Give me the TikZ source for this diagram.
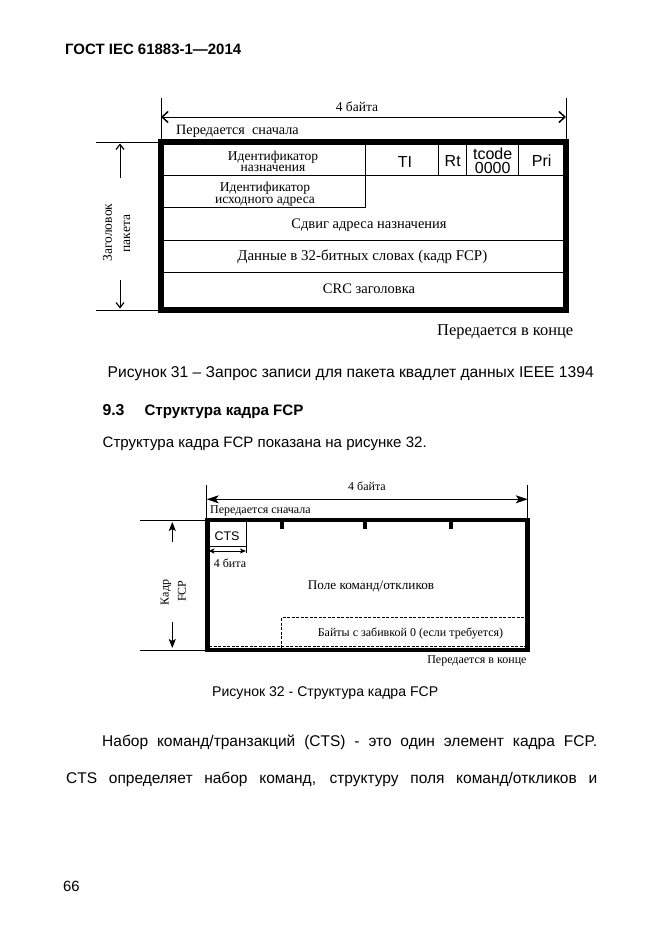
\documentclass[tikz,border=0pt]{standalone}
\usepackage{fontspec}
\usepackage{graphicx}
\setmainfont{Liberation Sans}
\newfontfamily\tnr{Liberation Serif}
\usetikzlibrary{arrows.meta}
\begin{document}
\begin{tikzpicture}[x=1pt,y=-1pt,
  body/.style={anchor=base west,inner sep=0pt,font=\fontsize{15.5}{18}\selectfont},
  lblA/.style={anchor=base,inner sep=0pt,font=\tnr\fontsize{13.5}{14}\selectfont},
  lblB/.style={anchor=base,inner sep=0pt,font=\tnr\fontsize{12}{13}\selectfont},
  sansA/.style={anchor=base,inner sep=0pt,font=\fontsize{16}{16}\selectfont},
  thinline/.style={line width=0.9pt},
  frameA/.style={line width=5.5pt},
  frameB/.style={line width=4.5pt},
  dimA/.style={line width=0.9pt,{Straight Barb[length=6pt,width=11pt,line width=1.5pt]}-{Straight Barb[length=6pt,width=11pt,line width=1.5pt]}},
  vA/.style={line width=0.9pt,-{Straight Barb[length=5pt,width=8pt,line width=1.2pt]}},
  dimB/.style={line width=0.9pt,{Stealth[length=12pt,width=8pt,inset=3pt]}-{Stealth[length=12pt,width=8pt,inset=3pt]}},
  vB/.style={line width=0.9pt,-{Stealth[length=9pt,width=7pt,inset=2pt]}},
  dimC/.style={line width=0.9pt,{Stealth[length=6pt,width=5pt,inset=1.5pt]}-{Stealth[length=6pt,width=5pt,inset=1.5pt]}}
]
\useasboundingbox (0,0) rectangle (661,936);
\fill[white] (0,0) rectangle (661,936);

% ---------- page text ----------
\node[anchor=base west,inner sep=0pt,font=\bfseries\fontsize{14.5}{16}\selectfont] (hdr) at (65,55) {\resizebox{176pt}{!}{ГОСТ IEC 61883-1—2014}};

\node[body] (cap31) at (107.5,377.3) {\resizebox{486pt}{!}{Рисунок 31 – Запрос записи для пакета квадлет данных IEEE 1394}};
\node[body,font=\bfseries\fontsize{16}{18}\selectfont] (sec) at (102.3,415.5) {\resizebox{22pt}{!}{9.3}};
\node[body,font=\bfseries\fontsize{15.5}{18}\selectfont] (sectitle) at (144.3,415.5) {\resizebox{159pt}{!}{Структура кадра FCP}};
\node[body] (par1) at (102.5,447.5) {\resizebox{324pt}{!}{Структура кадра FCP показана на рисунке 32.}};
\node[body] (cap32) at (212,696) {\resizebox{226pt}{!}{Рисунок 32 - Структура кадра FCP}};
\node[body] (par2) at (102,746) {\makebox[495pt][s]{Набор команд/транзакций (CTS) - это один элемент кадра FCP.}};
\node[body] (par3) at (66,783) {\makebox[531pt][s]{CTS определяет набор команд, структуру поля команд/откликов и}};
\node[body] (pg) at (63,891.5) {\resizebox{16.5pt}{!}{66}};

% ---------- Figure 31 ----------
\coordinate (a1) at (161,98);
\coordinate (a2) at (566,98);
\coordinate (a1b) at (161,142);
\coordinate (a2b) at (566,142);
\draw[thinline] (a1) -- (a1b);
\draw[thinline] (a2) -- (a2b);
\coordinate (w1) at (161,117);
\coordinate (w2) at (566,117);
\draw[dimA] (w1) -- (w2);
\node[lblA] (bytesA) at (357,111.7) {4 байта};
\node[lblA,anchor=base west,font=\tnr\fontsize{14.2}{15}\selectfont] (firstA) at (176,135) {Передается\ \ сначала};

% left dimension
\coordinate (l1) at (96,142);
\coordinate (l2) at (96,310);
\coordinate (l2b) at (161,310);
\draw[thinline] (l1) -- (a1b);
\draw[thinline] (l2) -- (l2b);
\coordinate (va1) at (120,178);
\coordinate (va2) at (120,143.5);
\coordinate (vb1) at (120,280);
\coordinate (vb2) at (120,308.5);
\draw[vA] (va1) -- (va2);
\draw[vA] (vb1) -- (vb2);
\node[rotate=90,inner sep=0pt,font=\tnr\fontsize{13.5}{14}\selectfont] (zag1) at (107.5,232.5) {Заголовок};
\node[rotate=90,inner sep=0pt,font=\tnr\fontsize{13.5}{14}\selectfont] (zag2) at (127,233.5) {пакета};

% grid
\draw[thinline] (161,175.7) -- (566,175.7);
\draw[thinline] (161,207.3) -- (365.7,207.3);
\draw[thinline] (161,240) -- (566,240);
\draw[thinline] (161,272.7) -- (566,272.7);
\draw[thinline] (365.7,142) -- (365.7,207.3);
\draw[thinline] (438.7,142) -- (438.7,175.7);
\draw[thinline] (466.7,142) -- (466.7,175.7);
\draw[thinline] (518.3,142) -- (518.3,175.7);
\draw[frameA] (161,142) rectangle (566,310);

\node[inner sep=0pt,align=center,font=\tnr\fontsize{13.5}{11.7}\selectfont] (dst) at (273,161.3) {Идентификатор\\назначения};
\node[sansA] (ti) at (405,167.3) {TI};
\node[sansA] (rt) at (452.7,166.7) {Rt};
\node[inner sep=0pt,align=center,font=\fontsize{16}{14}\selectfont] (tc) at (492.7,160.5) {tcode\\0000};
\node[sansA] (pri) at (541.7,166.5) {Pri};
\node[inner sep=0pt,align=center,font=\tnr\fontsize{13.5}{11.3}\selectfont] (src) at (265,194.2) {Идентификатор\\исходного адреса};
\node[lblA,font=\tnr\fontsize{14.5}{15}\selectfont] (off) at (369,228) {Сдвиг адреса назначения};
\node[lblA,font=\tnr\fontsize{14.9}{15}\selectfont] (data) at (362.3,260) {Данные в 32-битных словах (кадр FCP)};
\node[lblA,font=\tnr\fontsize{14.5}{15}\selectfont] (crc) at (369,293) {CRC заголовка};
\node[lblA,anchor=base west,font=\tnr\fontsize{14.5}{15}\selectfont] (lastA) at (437,335) {\resizebox{136pt}{!}{Передается в конце}};

% ---------- Figure 32 ----------
\coordinate (b1) at (206.7,485);
\coordinate (b2) at (527.7,485);
\coordinate (b1b) at (206.7,520);
\coordinate (b2b) at (527.7,520);
\draw[thinline] (b1) -- (b1b);
\draw[thinline] (b2) -- (b2b);
\coordinate (u1) at (206.7,499.3);
\coordinate (u2) at (527.7,499.3);
\draw[dimB] (u1) -- (u2);
\node[lblB] (bytesB) at (367,490.7) {4 байта};
\node[lblB,anchor=base west] (firstB) at (210,513.3) {Передается сначала};

\coordinate (m1) at (140,520);
\coordinate (m2) at (140,650);
\coordinate (m1b) at (207.5,520);
\coordinate (m2b) at (207.5,650);
\draw[thinline] (m1) -- (m1b);
\draw[thinline] (m2) -- (m2b);
\coordinate (vc1) at (172.3,542);
\coordinate (vc2) at (172.3,522);
\coordinate (vd1) at (172.3,622);
\coordinate (vd2) at (172.3,648);
\draw[vB] (vc1) -- (vc2);
\draw[vB] (vd1) -- (vd2);
\node[rotate=90,inner sep=0pt,font=\tnr\fontsize{12}{13}\selectfont] (kadr1) at (166,592.5) {Кадр};
\node[rotate=90,inner sep=0pt,font=\tnr\fontsize{12}{13}\selectfont] (kadr2) at (182,591) {FCP};

% dashed padding area
\draw[thinline,dash pattern=on 3pt off 1.5pt] (281.7,648) -- (281.7,617.3) -- (527,617.3);
\draw[thinline,dash pattern=on 3pt off 1.5pt] (209,646.8) -- (526,646.8);
% CTS box
\draw[thinline] (207.5,546) -- (246,546) -- (246,520);
\coordinate (c1) at (208.5,551);
\coordinate (c2) at (246,551);
\draw[dimC] (c1) -- (c2);
\draw[thinline] (246,546) -- (246,553);
\draw[frameB] (207.5,520) rectangle (527.5,650);
\fill (279.7,520) rectangle (283.7,529);
\fill (363.3,520) rectangle (367.3,529);
\fill (448.7,520) rectangle (452.7,529);

\node[anchor=base,inner sep=0pt,font=\fontsize{12.5}{13}\selectfont] (cts) at (227,540) {CTS};
\node[lblB] (bits) at (230,567) {4 бита};
\node[lblB,font=\tnr\fontsize{13.2}{14}\selectfont] (field) at (371,589) {Поле команд/откликов};
\node[lblB] (pad) at (410.5,636.7) {Байты с забивкой 0 (если требуется)};
\node[lblB,anchor=base east] (lastB) at (526.7,663) {Передается в конце};
\end{tikzpicture}
\end{document}
